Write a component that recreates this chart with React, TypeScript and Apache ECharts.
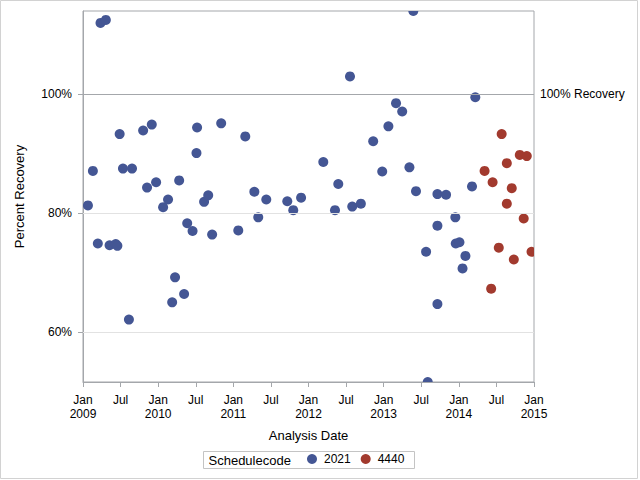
import React, { useEffect, useRef } from 'react';
import * as echarts from 'echarts';

const FONT = '"Liberation Sans", Arial, Helvetica, sans-serif';

// Schedulecode 2021 (blue)
const dates2021 = [
  '2009-01-25', '2009-02-18', '2009-03-14', '2009-03-27', '2009-04-22', '2009-05-10', '2009-06-09', '2009-06-17',
  '2009-06-28', '2009-07-14', '2009-08-12', '2009-08-27', '2009-10-20', '2009-11-08', '2009-12-01', '2009-12-22',
  '2010-01-25', '2010-02-18', '2010-03-10', '2010-03-24', '2010-04-13', '2010-05-07', '2010-05-22', '2010-06-17',
  '2010-07-09', '2010-07-06', '2010-08-12', '2010-09-01', '2010-09-20', '2010-11-03', '2011-01-25', '2011-02-28',
  '2011-04-13', '2011-05-02', '2011-06-10', '2011-09-20', '2011-10-19', '2011-11-26', '2012-03-13', '2012-05-09',
  '2012-05-25', '2012-07-21', '2012-08-01', '2012-09-12', '2012-11-11', '2012-12-25', '2013-01-24', '2013-03-02',
  '2013-04-01', '2013-05-06', '2013-05-25', '2013-06-07', '2013-07-26', '2013-08-03', '2013-09-19', '2013-09-19',
  '2013-09-19', '2013-10-31', '2013-12-15', '2013-12-17', '2014-01-04', '2014-01-19', '2014-02-02', '2014-03-06',
  '2014-03-22',
];
const values2021 = [
  81.3, 87.1, 74.9, 112.0, 112.5, 74.6, 74.8, 74.5,
  93.3, 87.5, 62.1, 87.5, 93.9, 84.3, 94.9, 85.2,
  81.0, 82.3, 65.0, 69.2, 85.5, 66.4, 78.3, 77.0,
  94.4, 90.1, 81.9, 83.0, 76.4, 95.1, 77.1, 92.9,
  83.6, 79.3, 82.3, 82.0, 80.5, 82.6, 88.6, 80.5,
  84.9, 103.0, 81.1, 81.6, 92.1, 87.0, 94.6, 98.5,
  97.1, 87.7, 114.0, 83.7, 73.5, 51.6, 83.2, 77.9,
  64.7, 83.1, 79.3, 74.9, 75.1, 70.7, 72.8, 84.5,
  99.5,
];

// Schedulecode 4440 (red)
const dates4440 = [
  '2014-05-06', '2014-06-07', '2014-06-14', '2014-07-14', '2014-07-28', '2014-08-22', '2014-08-22',
  '2014-09-15', '2014-09-25', '2014-10-24', '2014-11-12', '2014-11-27', '2014-12-20',
];
const values4440 = [87.1, 67.3, 85.2, 74.2, 93.3, 88.4, 81.6, 84.2, 72.2, 89.8, 79.1, 89.6, 73.5];

const seriesNames = ['2021', '4440'];
const yTicks = [60, 80, 100];
const refValue = 100;
const refLabel = '100% Recovery';
const xMinYear = 2009;
const xMaxYear = 2015;
const yMin = 51.6;
const yMax = 114.0;

const BLUE = '#445694';
const RED = '#A23A2E';
const FRAME = '#a4a7ab';
const GRIDLINE = '#e2e2e2';

function toYear(d: string): number {
  const [y, m, day] = d.split('-').map(Number);
  const start = Date.UTC(y, 0, 1);
  const end = Date.UTC(y + 1, 0, 1);
  return y + (Date.UTC(y, m - 1, day) - start) / (end - start);
}

function fmtX(v: number): string {
  if (Math.abs(v - Math.round(v)) < 1e-6) return 'Jan\n' + Math.round(v);
  return 'Jul';
}

export default function App() {
  const ref = useRef<HTMLDivElement>(null);
  useEffect(() => {
    const chart = echarts.init(ref.current!, null, { renderer: 'svg' });
    const makeSeries = (name: string, dates: string[], values: number[], color: string) => ({
      name,
      type: 'custom',
      clip: true,
      z: 3,
      itemStyle: { color },
      encode: { x: 0, y: 1 },
      data: dates.map((d, i) => [toYear(d), values[i]]),
      renderItem: (_params: any, api: any) => {
        const p = api.coord([api.value(0), api.value(1)]);
        return {
          type: 'circle',
          shape: { cx: p[0], cy: p[1], r: 5 },
          style: { fill: color },
        };
      },
    });
    chart.setOption({
      animation: false,
      textStyle: { fontFamily: FONT, color: '#000' },
      grid: {
        left: 83,
        right: 106,
        top: 11,
        bottom: 98,
        show: true,
        borderColor: FRAME,
        borderWidth: 1,
        backgroundColor: 'transparent',
      },
      xAxis: {
        type: 'value',
        min: xMinYear,
        max: xMaxYear,
        interval: 0.5,
        name: 'Analysis Date',
        nameLocation: 'middle',
        nameGap: 47,
        nameTextStyle: { fontSize: 13, color: '#000', fontFamily: FONT },
        axisLine: { show: true, lineStyle: { color: FRAME } },
        axisTick: { show: true, length: 5, lineStyle: { color: FRAME } },
        axisLabel: {
          margin: 11,
          fontSize: 12,
          lineHeight: 14,
          color: '#000',
          fontFamily: FONT,
          showMinLabel: true,
          showMaxLabel: true,
          formatter: fmtX,
        },
        splitLine: { show: false },
      },
      yAxis: {
        type: 'value',
        min: yMin,
        max: yMax,
        name: 'Percent Recovery',
        nameLocation: 'middle',
        nameGap: 57,
        nameTextStyle: { fontSize: 13, color: '#000', fontFamily: FONT },
        axisLine: { show: true, lineStyle: { color: FRAME } },
        axisTick: { show: true, length: 5, customValues: yTicks, lineStyle: { color: FRAME } },
        axisLabel: {
          customValues: yTicks,
          margin: 11,
          fontSize: 12,
          color: '#000',
          fontFamily: FONT,
          formatter: (v: number) => v + '%',
        },
        splitLine: { show: false },
      },
      legend: {
        data: seriesNames.map((n) => ({ name: n, icon: 'circle' })),
        left: 307,
        top: 453,
        padding: 0,
        itemWidth: 14,
        itemHeight: 10,
        itemGap: 10,
        selectedMode: false,
        textStyle: { fontSize: 12, color: '#000', fontFamily: FONT },
      },
      graphic: [
        {
          type: 'rect',
          silent: true,
          z: -10,
          shape: { x: 0.5, y: 0.5, width: 637, height: 478 },
          style: { fill: 'none', stroke: '#d2d2d2', lineWidth: 1 },
        },
        {
          type: 'rect',
          silent: true,
          shape: { x: 203.5, y: 451.5, width: 211, height: 17 },
          style: { fill: 'none', stroke: '#c4c4c4', lineWidth: 1 },
        },
        {
          type: 'text',
          silent: true,
          x: 208.5,
          y: 460,
          style: {
            text: 'Schedulecode',
            fontSize: 13,
            fontFamily: FONT,
            fill: '#000',
            align: 'left',
            verticalAlign: 'middle',
          },
        },
      ],
      series: [
        {
          type: 'line',
          name: 'reference',
          data: [],
          z: 1,
          silent: true,
          markLine: {
            silent: true,
            symbol: ['none', 'none'],
            animation: false,
            data: [
              ...yTicks
                .filter((t) => t !== refValue)
                .map((t) => ({
                  yAxis: t,
                  lineStyle: { color: GRIDLINE, width: 1, type: 'solid' },
                  label: { show: false },
                })),
              {
                yAxis: refValue,
                lineStyle: { color: FRAME, width: 1, type: 'solid' },
                label: {
                  show: true,
                  position: 'end',
                  formatter: refLabel,
                  color: '#000',
                  fontSize: 12,
                  fontFamily: FONT,
                  distance: 6,
                },
              },
            ],
          },
        },
        makeSeries(seriesNames[0], dates2021, values2021, BLUE),
        makeSeries(seriesNames[1], dates4440, values4440, RED),
      ],
    });
    return () => chart.dispose();
  }, []);
  return (
    <div
      ref={ref}
      style={{ position: 'absolute', left: 0, top: 0, width: 640, height: 480, background: '#fff' }}
    />
  );
}
